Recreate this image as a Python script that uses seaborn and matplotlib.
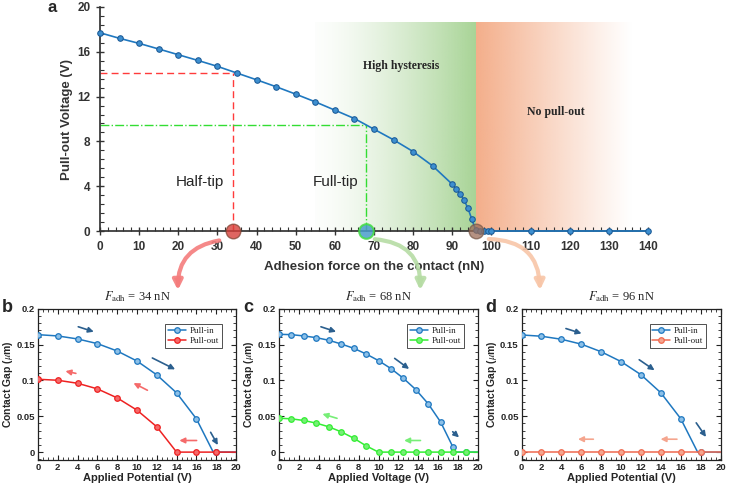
import numpy as np
import matplotlib
matplotlib.use("Agg")
import matplotlib.pyplot as plt
from matplotlib.colors import to_rgb
from matplotlib.patches import FancyArrowPatch
from matplotlib.ticker import MultipleLocator
import seaborn as sns

# ---- panel a: pull-out voltage vs adhesion force ----
adhesion_force = [0, 5, 10, 15, 20, 25, 30, 35, 40, 45, 50, 55, 60, 65, 70, 75, 80, 85,
                  90, 91, 92, 93, 94, 95, 96, 97, 98, 99, 100, 110, 120, 130, 140]
pullout_voltage = [17.7, 17.2, 16.75, 16.25, 15.74, 15.23, 14.7, 14.1, 13.5, 12.88, 12.22,
                   11.53, 10.79, 10.04, 9.09, 8.14, 7.09, 5.81, 4.17, 3.76, 3.31, 2.77,
                   2.03, 1.04, 0.05, 0, 0, 0, 0, 0, 0, 0, 0]
half_tip_force, half_tip_voltage = 34, 14.1
full_tip_force, full_tip_voltage = 68, 9.45
no_pullout_force = 96
force_ticks = list(range(0, 141, 10))
voltage_ticks = [0, 4, 8, 12, 16, 20]

# ---- panels b-d: contact gap vs applied potential ----
b_potential = [0, 2, 4, 6, 8, 10, 12, 14, 16, 18]
b_pullin = [0.1638, 0.162, 0.1578, 0.1513, 0.141, 0.127, 0.1077, 0.0826, 0.0464, 0]
b_pullout = [0.1016, 0.1002, 0.096, 0.0882, 0.0756, 0.0585, 0.0353, 0, 0, 0]
b_touchdown = 17.7

c_potential = [0, 1.25, 2.5, 3.75, 5, 6.25, 7.5, 8.75, 10, 11.25, 12.5, 13.75, 15, 16.25, 17.5, 18.75]
c_pullin = [0.1643, 0.1638, 0.162, 0.1596, 0.156, 0.1508, 0.1448, 0.1369, 0.1276, 0.1165,
            0.103, 0.0872, 0.0673, 0.0418, 0.0065, 0]
c_pullout = [0.0473, 0.0464, 0.0441, 0.0404, 0.0353, 0.0283, 0.0195, 0.0088, 0, 0, 0, 0, 0, 0, 0, 0]
c_touchdown = 17.7

d_potential = [0, 2, 4, 6, 8, 10, 12, 14, 16, 18]
d_pullin = [0.1634, 0.1616, 0.1574, 0.1506, 0.14, 0.1263, 0.108, 0.0828, 0.0467, 0]
d_pullout = [0, 0, 0, 0, 0, 0, 0, 0, 0, 0]
d_touchdown = 17.7

gap_ticks = [0, 0.05, 0.1, 0.15, 0.2]
gap_tick_labels = ["0", "0.05", "0.1", "0.15", "0.2"]
potential_ticks = list(range(0, 21, 2))
adhesion_titles = ["34", "68", "96"]

sns.set_theme(style="ticks")
plt.rcParams["font.family"] = ["Liberation Sans", "DejaVu Sans"]
plt.rcParams["mathtext.fontset"] = "stix"

W, H = 732, 492
fig = plt.figure(figsize=(W / 100, H / 100), dpi=100)


def px_axes(left, top, right, bottom):
    return fig.add_axes([left / W, 1 - bottom / H, (right - left) / W, (bottom - top) / H])


def gradient(color, alphas):
    img = np.zeros((1, len(alphas), 4))
    img[..., :3] = to_rgb(color)
    img[..., 3] = alphas
    return img


# ---------------- panel a ----------------
ax = px_axes(100, 7, 648, 231)
ramp = np.linspace(0, 1, 256)
ax.imshow(gradient("#a8d496", 0.03 + 0.97 * ramp ** 1.4), extent=[55, no_pullout_force, 0, 18.6],
          aspect="auto", zorder=0, interpolation="bilinear")
ax.imshow(gradient("#f4ae8a", (1 - ramp) ** 1.1), extent=[no_pullout_force, 136, 0, 18.6],
          aspect="auto", zorder=0, interpolation="bilinear")

ax.plot([0, half_tip_force], [half_tip_voltage] * 2, color="#ff3b3b", ls=(0, (5, 3)), lw=1)
ax.plot([half_tip_force] * 2, [0, half_tip_voltage], color="#ff3b3b", ls=(0, (5, 3)), lw=1)
ax.plot([0, full_tip_force], [full_tip_voltage] * 2, color="#33dd33", ls="-.", lw=1)
ax.plot([full_tip_force] * 2, [0, full_tip_voltage], color="#33dd33", ls="-.", lw=1)

sns.lineplot(x=adhesion_force, y=pullout_voltage, ax=ax, color="#1f78c0", lw=1.2,
             marker="o", markersize=4, markerfacecolor="#3d8fd0",
             markeredgecolor="#1a5a96", clip_on=False, zorder=4, legend=False)

ax.scatter([half_tip_force], [0], s=110, color="#d8403a", alpha=0.8,
           edgecolor="#8a4a3a", lw=1, clip_on=False, zorder=6)
ax.scatter([full_tip_force], [0], s=110, color="#4a9ccc", alpha=0.85,
           edgecolor="#44dd44", lw=1.5, clip_on=False, zorder=6)
ax.scatter([no_pullout_force], [0], s=110, color="#9c6d58", alpha=0.75,
           edgecolor="#7a5a4a", lw=1, clip_on=False, zorder=6)

ax.text(25.5, 4.4, "Half-tip", ha="center", va="center", fontsize=11)
ax.text(60.3, 4.4, "Full-tip", ha="center", va="center", fontsize=11)
ax.text(77, 14.75, "High hysteresis", ha="center", va="center", fontsize=8.5,
        fontweight="bold", family="Liberation Serif")
ax.text(116.5, 10.6, "No pull-out", ha="center", va="center", fontsize=8.5,
        fontweight="bold", family="Liberation Serif")

ax.set_xlim(0, 140)
ax.set_ylim(0, 20)
ax.set_xticks(force_ticks)
ax.set_yticks(voltage_ticks)
ax.xaxis.set_minor_locator(MultipleLocator(2))
ax.yaxis.set_minor_locator(MultipleLocator(0.8))
ax.tick_params(which="major", direction="inout", length=6, width=1, colors="#333333",
               labelsize=8.5, pad=4)
ax.tick_params(which="minor", direction="in", length=3, width=0.8, color="#333333")
for lbl in ax.get_xticklabels() + ax.get_yticklabels():
    lbl.set_fontweight("bold")
for side in ["top", "right"]:
    ax.spines[side].set_visible(False)
for side in ["left", "bottom"]:
    ax.spines[side].set_color("#333333")
ax.set_xlabel("Adhesion force on the contact (nN)", fontsize=9.5, fontweight="bold",
              color="#333333", labelpad=6)
ax.set_ylabel("Pull-out Voltage (V)", fontsize=9.5, fontweight="bold", color="#333333",
              labelpad=3)
fig.text(52 / W, 1 - 8 / H, "a", fontsize=12, fontweight="bold", ha="center", va="center")

# ---------------- panels b-d ----------------
panels = [
    ("b", 38, 236, b_potential, b_pullin, b_pullout, b_touchdown, "#ee2222", "#f56a6a",
     "Applied Potential (V)"),
    ("c", 279, 478, c_potential, c_pullin, c_pullout, c_touchdown, "#33ee33", "#77ee77",
     "Applied Voltage (V)"),
    ("d", 521.5, 720.5, d_potential, d_pullin, d_pullout, d_touchdown, "#f06a50", "#f5a58e",
     "Applied Potential (V)"),
]
pullin_arrows = {
    "b": [((3.8, 0.176), (5.9, 0.1667)), ((11.3, 0.133), (14.1, 0.1137)), ((17.3, 0.031), (18.3, 0.0065))],
    "c": [((3.95, 0.176), (6.0, 0.1666)), ((11.4, 0.133), (13.3, 0.1137)), ((17.25, 0.031), (18.3, 0.018))],
    "d": [((4.2, 0.1735), (6.3, 0.1643)), ((11.6, 0.131), (13.6, 0.112)), ((17.4, 0.044), (18.7, 0.018))],
}
pullout_arrows = {
    "b": [((4.1, 0.109), (2.5, 0.1137)), ((11.3, 0.0845), (9.4, 0.098)), ((16.3, 0.0162), (14.0, 0.0162))],
    "c": [((6.1, 0.046), (4.1, 0.0543)), ((14.5, 0.0162), (12.3, 0.0162))],
    "d": [((7.5, 0.018), (5.4, 0.018)), ((15.9, 0.018), (13.7, 0.018))],
}
pullin_color = "#1f78c0"

for (tag, left, right, pot, pin, pout, touch, pcolor, acolor, xlabel), title in zip(panels, adhesion_titles):
    ax = px_axes(left, 308.7, right, 460)
    # pull-in line: measured points, touchdown crossing, then flat to 20 V
    pin_x = pot[:-1] + [touch] + pot[-1:] + [20]
    pin_y = pin[:-1] + [0] + pin[-1:] + [0]
    pin_marks = list(range(len(pot) - 1)) + [len(pot)]
    sns.lineplot(x=pin_x, y=pin_y, ax=ax, color=pullin_color, lw=1.1, marker="o",
                 markersize=4, markevery=pin_marks, markerfacecolor="#8cc0e8",
                 markeredgecolor=pullin_color, markeredgewidth=0.9, label="Pull-in",
                 sort=False, zorder=3)
    sns.lineplot(x=pot + [20], y=pout + [0], ax=ax, color=pcolor, lw=1.1, marker="o",
                 markersize=4, markevery=list(range(len(pot))), markerfacecolor=acolor,
                 markeredgecolor=pcolor, markeredgewidth=0.9, label="Pull-out",
                 sort=False, zorder=4)
    for start, end in pullin_arrows[tag]:
        ax.annotate("", xy=end, xytext=start,
                    arrowprops=dict(arrowstyle="-|>", color="#2b5f8e", lw=1.2, mutation_scale=8))
    for start, end in pullout_arrows[tag]:
        ax.annotate("", xy=end, xytext=start,
                    arrowprops=dict(arrowstyle="-|>", color=acolor, lw=1.2, mutation_scale=8))

    ax.set_xlim(0, 20)
    ax.set_ylim(-0.011, 0.2)
    ax.set_xticks(potential_ticks)
    ax.set_yticks(gap_ticks, gap_tick_labels)
    ax.xaxis.set_minor_locator(MultipleLocator(0.5))
    ax.yaxis.set_minor_locator(MultipleLocator(0.01))
    ax.tick_params(which="both", direction="in", top=True, right=True, color="#222222")
    ax.tick_params(which="major", length=3.5, width=0.8, labelsize=6.8, pad=2)
    ax.tick_params(which="minor", length=2, width=0.6)
    for lbl in ax.get_xticklabels() + ax.get_yticklabels():
        lbl.set_fontweight("bold")
    for sp in ax.spines.values():
        sp.set_linewidth(0.9)
        sp.set_color("#222222")
    ax.set_xlabel(xlabel, fontsize=8, fontweight="bold", labelpad=1)
    ax.set_ylabel(r"Contact Gap ($\mu$m)", fontsize=7.5, fontweight="bold", labelpad=1)
    ax.set_title(r"$F_{\mathrm{adh}}$ = " + title + " nN", fontsize=9,
                 family="Liberation Serif", pad=6)
    ax.legend(loc="upper right", bbox_to_anchor=(0.95, 0.93),
              prop={"family": "Liberation Serif", "size": 6.5}, frameon=True,
              fancybox=False, edgecolor="#333333", framealpha=1, handlelength=2,
              borderpad=0.3, labelspacing=0.2, handletextpad=0.4)
    ax.legend_.get_frame().set_linewidth(0.6)
    fig.text((left - 31) / W, 1 - 308 / H, tag, fontsize=13, fontweight="bold",
             ha="center", va="center")

# ---------------- curved arrows from a to b-d ----------------
for start, end, color, rad in [((222, 240), (178, 293), "#f47c7c", 0.45),
                               ((372, 239), (420, 293), "#b6dca4", -0.5),
                               ((486, 239), (540, 293), "#f8c6a8", -0.5)]:
    fig.patches.append(FancyArrowPatch(
        (start[0] / W, 1 - start[1] / H), (end[0] / W, 1 - end[1] / H),
        transform=fig.transFigure, connectionstyle=f"arc3,rad={rad}",
        arrowstyle="-|>", mutation_scale=14, lw=3, color=color, alpha=0.9))

fig.savefig("out.png", dpi=100)
